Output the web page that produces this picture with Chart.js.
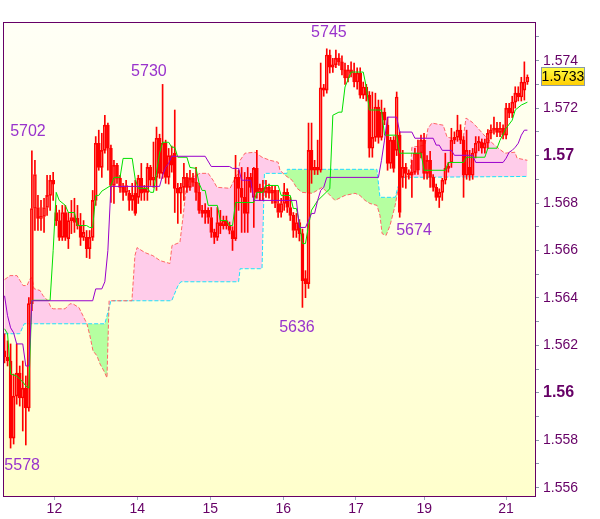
<!DOCTYPE html>
<html><head><meta charset="utf-8">
<script src="https://cdn.jsdelivr.net/npm/chart.js@4.4.1/dist/chart.umd.min.js"></script>
<style>html,body{margin:0;padding:0;background:#fff;}canvas{display:block;}</style>
</head><body>
<canvas id="c" width="600" height="519"></canvas>
<script>
// ---- candle data (hourly bars, index 0..172) ----
const opens = [1.56177,1.56151,1.56134,1.55809,1.55986,1.56083,1.55978,1.56020,1.55936,1.56376,
1.56777,1.56781,1.56735,1.56743,1.56781,1.56832,1.56896,1.56760,1.56726,1.56655,
1.56760,1.56650,1.56726,1.56739,1.56735,1.56705,1.56655,1.56655,1.56608,1.56655,
1.56811,1.57052,1.56950,1.57022,1.57128,1.57031,1.56874,1.56959,1.56904,1.56866,
1.56845,1.56841,1.56811,1.56841,1.56824,1.56904,1.56862,1.56845,1.56950,1.56896,
1.56908,1.57073,1.56925,1.57052,1.56908,1.57000,1.57010,1.56862,1.56841,1.56866,
1.56908,1.56866,1.56904,1.56887,1.56845,1.56769,1.56756,1.56769,1.56739,1.56676,
1.56655,1.56718,1.56705,1.56726,1.56705,1.56684,1.56650,1.56908,1.56862,1.56824,
1.56756,1.56908,1.56824,1.56946,1.56845,1.56862,1.56845,1.56866,1.56841,1.56853,
1.56798,1.56760,1.56798,1.56845,1.56781,1.56748,1.56684,1.56718,1.56671,1.56481,
1.56460,1.57022,1.56938,1.56950,1.56938,1.57285,1.57276,1.57424,1.57373,1.57382,
1.57411,1.57395,1.57361,1.57327,1.57361,1.57348,1.57310,1.57348,1.57255,1.57289,
1.57255,1.57031,1.57077,1.57204,1.57077,1.57183,1.57128,1.56967,1.57065,1.57022,
1.57086,1.56908,1.56950,1.56925,1.56917,1.56929,1.57010,1.57010,1.57065,1.56925,
1.56980,1.56908,1.56866,1.56824,1.56845,1.56896,1.56946,1.56971,1.57065,1.57077,
1.57107,1.57065,1.56917,1.56950,1.56917,1.57010,1.57052,1.57057,1.57031,1.57052,
1.57094,1.57107,1.57115,1.57098,1.57115,1.57086,1.57200,1.57179,1.57225,1.57263,
1.57247,1.57276,1.57310];
const highs = [1.56249,1.56219,1.56206,1.56079,1.56206,1.56113,1.56134,1.56071,1.56401,1.57020,
1.56980,1.56832,1.56811,1.56820,1.56917,1.56917,1.56929,1.56790,1.56770,1.56790,
1.56790,1.56760,1.56811,1.56820,1.56790,1.56756,1.56726,1.56684,1.56684,1.56853,
1.57080,1.57107,1.57094,1.57170,1.57137,1.57044,1.56980,1.56967,1.56917,1.56883,
1.56896,1.56853,1.56883,1.56896,1.56917,1.56967,1.56874,1.56967,1.56959,1.57057,
1.57120,1.57090,1.57300,1.57065,1.57030,1.57040,1.57192,1.56883,1.56883,1.56967,
1.56925,1.56938,1.56925,1.56950,1.56883,1.56790,1.56798,1.56780,1.56781,1.56690,
1.56781,1.56769,1.56745,1.56745,1.56720,1.56700,1.57001,1.56938,1.56950,1.56929,
1.56950,1.56925,1.56950,1.57022,1.56880,1.56896,1.56896,1.56880,1.56874,1.56870,
1.56853,1.56820,1.56883,1.56860,1.56824,1.56760,1.56756,1.56730,1.56690,1.56515,
1.57137,1.57137,1.56980,1.57065,1.57390,1.57300,1.57450,1.57445,1.57410,1.57445,
1.57430,1.57420,1.57390,1.57380,1.57395,1.57390,1.57370,1.57370,1.57310,1.57300,
1.57270,1.57268,1.57263,1.57234,1.57234,1.57200,1.57162,1.57077,1.57080,1.57268,
1.57100,1.57022,1.56967,1.56940,1.56980,1.57030,1.57065,1.57086,1.57094,1.57000,
1.57018,1.56920,1.56880,1.56860,1.56904,1.57010,1.56971,1.57115,1.57100,1.57170,
1.57130,1.57080,1.57107,1.57022,1.57030,1.57080,1.57080,1.57070,1.57070,1.57110,
1.57130,1.57162,1.57140,1.57140,1.57130,1.57220,1.57220,1.57250,1.57290,1.57290,
1.57330,1.57395,1.57340];
const lows = [1.56126,1.56113,1.55767,1.55784,1.55952,1.55944,1.55839,1.55780,1.55923,1.56346,
1.56684,1.56684,1.56684,1.56676,1.56748,1.56769,1.56811,1.56705,1.56642,1.56642,
1.56642,1.56608,1.56671,1.56676,1.56690,1.56621,1.56642,1.56570,1.56566,1.56642,
1.56790,1.56938,1.56908,1.57010,1.56938,1.56802,1.56798,1.56883,1.56845,1.56811,
1.56832,1.56769,1.56769,1.56748,1.56798,1.56811,1.56811,1.56811,1.56874,1.56866,
1.56853,1.56904,1.56904,1.56883,1.56880,1.56930,1.56760,1.56714,1.56756,1.56811,
1.56845,1.56853,1.56870,1.56811,1.56756,1.56740,1.56714,1.56714,1.56655,1.56629,
1.56642,1.56671,1.56690,1.56690,1.56670,1.56600,1.56642,1.56769,1.56676,1.56676,
1.56676,1.56845,1.56697,1.56820,1.56810,1.56811,1.56824,1.56820,1.56798,1.56780,
1.56739,1.56740,1.56769,1.56760,1.56726,1.56655,1.56655,1.56640,1.56360,1.56401,
1.56440,1.56883,1.56920,1.56920,1.56930,1.57250,1.57263,1.57348,1.57350,1.57370,
1.57380,1.57340,1.57300,1.57310,1.57331,1.57289,1.57280,1.57242,1.57240,1.57230,
1.56993,1.56993,1.57060,1.57052,1.57065,1.57130,1.56938,1.56946,1.56930,1.57000,
1.56740,1.56866,1.56862,1.56900,1.56824,1.56920,1.56920,1.56990,1.56900,1.56900,
1.56866,1.56850,1.56811,1.56781,1.56811,1.56880,1.56930,1.56950,1.57050,1.57060,
1.57050,1.56824,1.56900,1.56896,1.56900,1.56990,1.57020,1.57010,1.57010,1.57030,
1.57070,1.57090,1.57080,1.57080,1.57070,1.57070,1.57160,1.57160,1.57200,1.57230,
1.57230,1.57234,1.57300];
const closes = [1.56151,1.56134,1.55809,1.55986,1.56083,1.55978,1.56020,1.55936,1.56376,1.56777,
1.56920,1.56735,1.56743,1.56781,1.56832,1.56896,1.56879,1.56726,1.56655,1.56760,
1.56655,1.56726,1.56739,1.56718,1.56705,1.56655,1.56676,1.56608,1.56655,1.56811,
1.57052,1.56950,1.57022,1.57128,1.57031,1.56874,1.56959,1.56904,1.56866,1.56845,
1.56874,1.56811,1.56832,1.56756,1.56904,1.56841,1.56845,1.56950,1.56896,1.56908,
1.57073,1.56925,1.57052,1.56908,1.57000,1.56959,1.56862,1.56841,1.56866,1.56908,
1.56866,1.56904,1.56887,1.56845,1.56769,1.56756,1.56769,1.56739,1.56676,1.56655,
1.56718,1.56705,1.56726,1.56705,1.56684,1.56650,1.56908,1.56862,1.56824,1.56756,
1.56908,1.56866,1.56946,1.56845,1.56862,1.56845,1.56866,1.56841,1.56853,1.56798,
1.56760,1.56798,1.56845,1.56781,1.56748,1.56684,1.56718,1.56671,1.56473,1.56460,
1.57022,1.56938,1.56950,1.56938,1.57285,1.57276,1.57424,1.57373,1.57382,1.57411,
1.57395,1.57361,1.57327,1.57361,1.57348,1.57310,1.57348,1.57255,1.57289,1.57255,
1.57031,1.57077,1.57204,1.57077,1.57183,1.57149,1.56967,1.57065,1.56946,1.57247,
1.56760,1.56950,1.56925,1.56917,1.56929,1.57010,1.56938,1.57065,1.56925,1.56980,
1.56908,1.56866,1.56824,1.56845,1.56896,1.56946,1.56950,1.57065,1.57077,1.57107,
1.57065,1.56917,1.57022,1.56917,1.57010,1.57052,1.57057,1.57031,1.57052,1.57094,
1.57107,1.57115,1.57098,1.57115,1.57086,1.57200,1.57179,1.57225,1.57263,1.57247,
1.57310,1.57310,1.57330];

// ---- indicator lines [barIndex, price] ----
const tenkan = [[0,1.56270],[1,1.56249],[2,1.56079],[4,1.56071],[5,1.56058],[6,1.56046],[7,1.56029],[8,1.56020],[9,1.56390],[15,1.56390],[16,1.56600],[17,1.56845],[18,1.56811],[20,1.56790],[21,1.56760],[23,1.56760],[24,1.56705],[27,1.56705],[28,1.56697],[29,1.56697],[30,1.56832],[31,1.56832],[32,1.56850],[35,1.56874],[36,1.56908],[38,1.56908],[39,1.56988],[42,1.56988],[43,1.56900],[44,1.56862],[47,1.56862],[48,1.56845],[49,1.56845],[50,1.56930],[51,1.57010],[52,1.57056],[54,1.57056],[55,1.57035],[56,1.57035],[57,1.56993],[60,1.56993],[61,1.56950],[63,1.56946],[64,1.56883],[65,1.56853],[66,1.56853],[67,1.56790],[70,1.56790],[71,1.56726],[73,1.56726],[74,1.56705],[75,1.56705],[76,1.56802],[82,1.56802],[83,1.56845],[85,1.56845],[86,1.56874],[90,1.56874],[91,1.56832],[94,1.56832],[95,1.56777],[96,1.56777],[97,1.56718],[98,1.56629],[99,1.56629],[100,1.56705],[101,1.56770],[103,1.56810],[107,1.56860],[108,1.57170],[110,1.57183],[111,1.57183],[112,1.57289],[114,1.57352],[118,1.57352],[119,1.57289],[120,1.57192],[124,1.57192],[125,1.57086],[129,1.57086],[130,1.57010],[137,1.57010],[138,1.56938],[145,1.56938],[146,1.56971],[151,1.56971],[152,1.56993],[158,1.56993],[159,1.57031],[162,1.57031],[163,1.57065],[165,1.57115],[167,1.57149],[168,1.57192],[170,1.57213],[172,1.57225]];
const kijun = [[0,1.56409],[1,1.56325],[2,1.56274],[3,1.56253],[4,1.56206],[6,1.56206],[7,1.56113],[8,1.56113],[9,1.56388],[29,1.56388],[30,1.56438],[32,1.56438],[33,1.56468],[34,1.56600],[35,1.56870],[51,1.56870],[52,1.56917],[53,1.56950],[54,1.56967],[55,1.56997],[66,1.56997],[68,1.56954],[74,1.56954],[75,1.56946],[77,1.56946],[78,1.56896],[81,1.56896],[82,1.56811],[96,1.56811],[97,1.56697],[99,1.56697],[100,1.56726],[101,1.56756],[102,1.56756],[103,1.56811],[104,1.56853],[105,1.56866],[106,1.56908],[123,1.56908],[124,1.56980],[125,1.57065],[126,1.57162],[129,1.57162],[130,1.57099],[134,1.57099],[135,1.57073],[141,1.57073],[142,1.57044],[143,1.57044],[144,1.57022],[147,1.57022],[148,1.57001],[154,1.57001],[155,1.56971],[164,1.56971],[165,1.56989],[166,1.57014],[167,1.57022],[168,1.57035],[169,1.57052],[170,1.57086],[171,1.57107],[172,1.57107]];
const spanA = [[0,1.56477],[1.8,1.56494],[4.1,1.56494],[5.1,1.56473],[6.1,1.56452],[7.4,1.56452],[8.4,1.56481],[9.0,1.56485],[9.7,1.56439],[11.7,1.56431],[12.7,1.56409],[14.3,1.56388],[15.3,1.56359],[16.0,1.56354],[19.9,1.56354],[21.5,1.56375],[22.5,1.56375],[24.5,1.56359],[25.8,1.56325],[27.1,1.56291],[28.1,1.56240],[29.1,1.56177],[30.4,1.56156],[31.4,1.56122],[32.7,1.56092],[33.7,1.56063],[34.4,1.56388],[41.9,1.56388],[42.9,1.56578],[43.6,1.56612],[46.2,1.56591],[48.8,1.56578],[51.2,1.56557],[54.4,1.56545],[55.1,1.56621],[57.7,1.56634],[58.7,1.56740],[59.7,1.56853],[61.0,1.56904],[64.3,1.56925],[67.0,1.56925],[68.6,1.56896],[69.9,1.56866],[74.2,1.56862],[75.8,1.56904],[76.8,1.56925],[77.5,1.56980],[79.1,1.57010],[82.4,1.57014],[84.7,1.56993],[87.3,1.56980],[90.0,1.56972],[90.6,1.56938],[92.3,1.56917],[94.6,1.56896],[96.2,1.56862],[97.9,1.56845],[101.2,1.56841],[102.8,1.56853],[104.5,1.56866],[106.1,1.56845],[107.7,1.56824],[108.7,1.56811],[112.0,1.56832],[115.3,1.56841],[116.9,1.56832],[118.6,1.56811],[120.2,1.56798],[122.5,1.56790],[123.5,1.56748],[124.2,1.56671],[125.5,1.56663],[126.8,1.56705],[128.5,1.56790],[129.4,1.56853],[130.1,1.56908],[133.4,1.56912],[134.0,1.57035],[138.3,1.57044],[139.3,1.57115],[140.6,1.57137],[144.3,1.57128],[145.6,1.57077],[150.8,1.57065],[151.8,1.57158],[153.8,1.57141],[155.4,1.57120],[158.7,1.57073],[162.0,1.57035],[164.6,1.57010],[167.9,1.57014],[168.6,1.56989],[172,1.56980]];
const spanB = [[0,1.56249],[5,1.56249],[6.5,1.56291],[33,1.56291],[35,1.56388],[55,1.56388],[57,1.56450],[58,1.56468],[77,1.56468],[77.5,1.56523],[84.7,1.56523],[85.5,1.56925],[92.9,1.56925],[93,1.56942],[122.5,1.56942],[123.5,1.56824],[128.5,1.56824],[129.5,1.56870],[130.5,1.56908],[172,1.56912]];

// ---- text data ----
const peakLabels = ['5702','5730','5745','5636','5674','5578'];
const peakIndex  = [7.7, 47.5, 106.7, 96.2, 134.7, 5.8];
const peakPrice  = [1.57103, 1.57352, 1.57517, 1.56274, 1.56684, 1.55695];
const dayLabels = ['12','14','15','16','17','19','21'];
const dayIndex  = [16.4, 43.7, 67.7, 91.7, 115.6, 138.1, 165.0];
const yTickValues = [1.556,1.557,1.558,1.559,1.560,1.561,1.562,1.563,1.564,1.565,1.566,1.567,1.568,1.569,1.570,1.571,1.572,1.573,1.574,1.575];
const lastClose = closes[closes.length-1];

const FONT = "'Liberation Sans', Arial, sans-serif";
const RED = '#ff0000';
const pts = a => a.map(p => ({x:p[0], y:p[1]}));

const bodies = closes.map((c,i) => ({x:i, y:[opens[i], c]}));
const upperW = closes.map((c,i) => ({x:i, y:[Math.max(opens[i],c), highs[i]]}));
const lowerW = closes.map((c,i) => ({x:i, y:[lows[i], Math.min(opens[i],c)]}));

const deco = {
  id:'deco',
  beforeDraw(chart){
    const {ctx, chartArea:a} = chart;
    ctx.save();
    ctx.fillStyle='#ffffff'; ctx.fillRect(0,0,chart.width,chart.height);
    const g = ctx.createLinearGradient(0,a.top,0,a.bottom);
    g.addColorStop(0,'#fffff6'); g.addColorStop(1,'#ffffcc');
    ctx.fillStyle=g; ctx.fillRect(a.left,a.top,a.right-a.left,a.bottom-a.top);
    ctx.restore();
  },
  afterDatasetsDraw(chart){
    const {ctx, chartArea:a, scales} = chart;
    ctx.save();
    ctx.font = '16px '+FONT; ctx.fillStyle='#9933cc';
    ctx.textAlign='center'; ctx.textBaseline='middle';
    peakLabels.forEach((t,k)=>{
      ctx.fillText(t, scales.x.getPixelForValue(peakIndex[k]), scales.y.getPixelForValue(peakPrice[k]));
    });
    ctx.strokeStyle='#660066'; ctx.lineWidth=1;
    ctx.strokeRect(a.left+0.5, a.top+0.5, a.right-a.left, a.bottom-a.top);
    ctx.restore();
  },
  afterDraw(chart){
    const {ctx, chartArea:a, scales} = chart;
    const y = Math.round(scales.y.getPixelForValue(lastClose));
    const x0 = a.right + 6, w = 44, h = 19, y0 = y - 10;
    ctx.save();
    const g = ctx.createLinearGradient(0,y0,0,y0+h);
    g.addColorStop(0,'#ffff44'); g.addColorStop(1,'#ffcc00');
    ctx.fillStyle=g; ctx.fillRect(x0,y0,w,h);
    ctx.strokeStyle='#8899aa'; ctx.lineWidth=1; ctx.strokeRect(x0+0.5,y0+0.5,w-1,h-1);
    ctx.fillStyle='#000'; ctx.font='14px '+FONT; ctx.textAlign='center'; ctx.textBaseline='middle';
    ctx.fillText(lastClose.toFixed(4), x0+w/2, y0+h/2+1);
    ctx.restore();
  }
};

const yFont = c => {
  const v = c && c.tick ? c.tick.value : null;
  if (v !== null && Math.round(v*1000) % 10 === 0) return {family:FONT, size:16, weight:'bold'};
  return {family:FONT, size:14};
};

new Chart(document.getElementById('c'), {
  type:'line',
  data:{ datasets:[
    {type:'line', data:pts(spanB), borderColor:'#22ddff', borderWidth:1, borderDash:[4,2], pointRadius:0, tension:0, fill:false, order:10},
    {type:'line', data:pts(spanA), borderColor:'#ff6666', borderWidth:1, borderDash:[4,2], pointRadius:0, tension:0,
      fill:{target:0, above:'#ffccea', below:'#b5ffa0'}, order:9},
    {type:'bar', data:lowerW, backgroundColor:RED, borderWidth:0, barThickness:1, grouped:false, order:5},
    {type:'bar', data:upperW, backgroundColor:RED, borderWidth:0, barThickness:1, grouped:false, order:4},
    {type:'bar', data:bodies, barThickness:3, grouped:false, borderSkipped:false, borderWidth:1, borderColor:RED, minBarLength:2,
      backgroundColor: c => { const d = c.raw; return d && d.y && d.y[1] >= d.y[0] ? 'rgba(255,255,255,0)' : RED; }, order:3},
    {type:'line', data:pts(tenkan), borderColor:'#00e000', borderWidth:1, pointRadius:0, tension:0, fill:false, order:1},
    {type:'line', data:pts(kijun), borderColor:'#9900cc', borderWidth:1, pointRadius:0, tension:0, fill:false, order:0}
  ]},
  options:{
    responsive:false, animation:false, devicePixelRatio:1,
    layout:{padding:{left:3, top:22, right:0, bottom:0}},
    plugins:{legend:{display:false}, tooltip:{enabled:false}, filler:{drawTime:'beforeDatasetsDraw'}},
    scales:{
      x:{type:'linear', min:-0.5, max:174.5, offset:false,
        afterBuildTicks: s => { s.ticks = dayIndex.map(v => ({value:v})); },
        afterFit: s => { s.height = 23; },
        border:{display:false},
        grid:{drawOnChartArea:false, tickLength:4, color:'#99aabb', offset:false},
        ticks:{autoSkip:false, maxRotation:0, padding:1, color:'#660066', font:{family:FONT, size:14},
          callback:(v,i) => dayLabels[i]}
      },
      y:{position:'right', min:1.55565, max:1.57563,
        afterBuildTicks: s => { s.ticks = yTickValues.map(v => ({value:v})); },
        afterFit: s => { s.width = 65; },
        border:{display:false},
        grid:{drawOnChartArea:false, tickLength:4, color:'#8899aa'},
        ticks:{autoSkip:false, padding:4, color:'#660066', font: yFont,
          callback: v => { const k = Math.round(v*1000); return (k%2) ? '' : String(k/1000); }}
      }
    }
  },
  plugins:[deco]
});
</script>
</body></html>
